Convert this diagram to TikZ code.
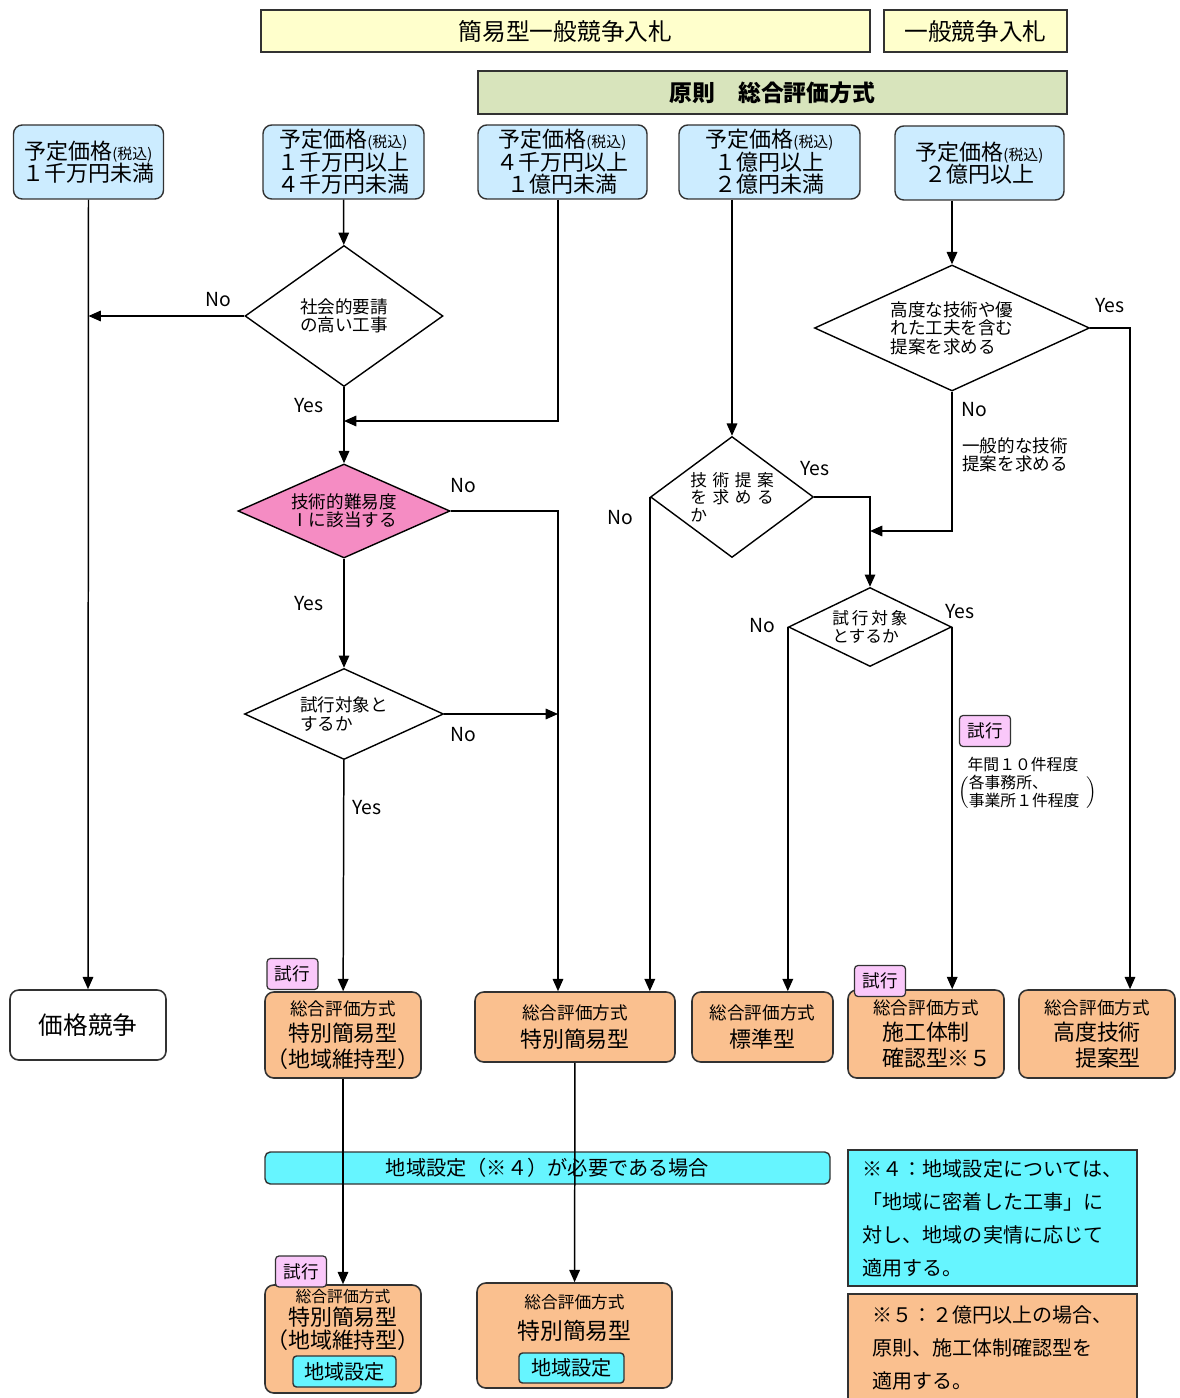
\documentclass[tikz,border=0pt]{standalone}
\usepackage{fontspec}
\setmainfont{Noto Sans CJK JP}
\usetikzlibrary{shapes.geometric,arrows.meta}

\definecolor{headyellow}{RGB}{255,255,204}
\definecolor{headgreen}{RGB}{216,228,188}
\definecolor{priceblue}{RGB}{204,236,255}
\definecolor{levelpink}{RGB}{245,140,195}
\definecolor{resultorange}{RGB}{250,192,143}
\definecolor{areacyan}{RGB}{102,245,255}
\definecolor{trialpink}{RGB}{250,200,250}
\definecolor{edgegray}{RGB}{50,50,50}

\newcommand{\zeikomi}{{\fontsize{8.5}{9}\selectfont(税込)}}

\tikzset{
  sz/.style 2 args={minimum width=#1*0.02cm, minimum height=#2*0.02cm},
  headbox/.style={draw=edgegray, line width=0.9pt, inner sep=0pt, font=\fontsize{13.5}{16}\selectfont},
  pricebox/.style={draw=edgegray, fill=priceblue, rounded corners=5pt, line width=0.8pt, align=center, inner sep=0pt, font=\fontsize{12.5}{12.8}\selectfont},
  choice/.style={diamond, draw=black, line width=0.8pt, inner sep=0pt, align=center, font=\fontsize{10}{10.5}\selectfont},
  resultbox/.style={draw=edgegray, fill=resultorange, rounded corners=5pt, line width=0.9pt, align=center, inner sep=0pt, font=\fontsize{12.5}{15}\selectfont},
  trialtag/.style={draw=edgegray, fill=trialpink, rounded corners=2pt, line width=0.7pt, inner sep=0pt, sz={51}{31}, font=\fontsize{10}{12}\selectfont},
  areabox/.style={draw=edgegray, fill=areacyan, rounded corners=2pt, line width=0.8pt, inner sep=0pt, font=\fontsize{11.5}{12}\selectfont},
  notebox/.style={draw=edgegray, line width=0.9pt, align=left, inner sep=0pt, font=\fontsize{11.4}{18.8}\selectfont},
  flow/.style={line width=0.85pt, -{Triangle[length=7pt,width=6pt]}},
  ans/.style={inner sep=0pt, font=\fontsize{11}{12}\selectfont}
}

\begin{document}
\begin{tikzpicture}[x=0.02cm, y=-0.02cm]
    \useasboundingbox (0,0) rectangle (1179,1398);

    % Header boxes
    \node[headbox, fill=headyellow, sz={609}{42}] (simple) at (565.5,31) {簡易型一般競争入札};
    \node[headbox, fill=headyellow, sz={183}{42}] (general) at (975.5,31) {一般競争入札};
    \node[headbox, fill=headgreen, sz={589}{43}, font=\bfseries\fontsize{13}{15}\selectfont] (rule) at (772.5,92.5) {原則　総合評価方式};

    % Price ranges
    \node[pricebox, sz={150}{74}] (p1) at (88.5,162) {予定価格\zeikomi\\１千万円未満};
    \node[pricebox, sz={161}{74}] (p2) at (343.5,162) {予定価格\zeikomi\\１千万円以上\\４千万円未満};
    \node[pricebox, sz={169}{74}] (p3) at (562.5,162) {予定価格\zeikomi\\４千万円以上\\１億円未満};
    \node[pricebox, sz={181}{74}] (p4) at (769.5,162) {予定価格\zeikomi\\１億円以上\\２億円未満};
    \node[pricebox, sz={169}{74}] (p5) at (979.5,163) {予定価格\zeikomi\\２億円以上};

    % Decisions
    \node[choice, shape aspect=1.4, sz={198}{141}] (q1) at (344,316) {社会的要請\\の高い工事};
    \node[choice, fill=levelpink, shape aspect=2.26, sz={212}{94}] (q2) at (344,511) {技術的難易度\\Ⅰに該当する};
    \node[choice, align=left, shape aspect=2.19, sz={199}{91}] (q3) at (344,714) {試行対象と\\するか};
    \node[choice, align=left, shape aspect=2.18, sz={275}{126}] (q4) at (952,328) {高度な技術や優\\れた工夫を含む\\提案を求める};
    \node[choice, align=left, shape aspect=1.35, sz={163}{121}, font=\fontsize{9.5}{10}\selectfont] (q5) at (732,497) {技\,\,術\,\,提\,\,案\\を\,\,求\,\,め\,\,る\\か};
    \node[choice, align=left, shape aspect=2.06, sz={163}{79}, font=\fontsize{9.5}{10}\selectfont] (q6) at (870,627) {試\,行\,対\,象\\とするか};

    % Results
    \node[draw=edgegray, fill=white, rounded corners=5pt, line width=0.9pt, inner sep=0pt, sz={156}{70}, font=\fontsize{14}{16}\selectfont] (price) at (88,1025) {価格競争};
    \node[resultbox, sz={156}{86}] (r1) at (343,1035) {{\fontsize{10}{10}\selectfont 総合評価方式}\\特別簡易型\\（地域維持型）};
    \node[resultbox, sz={200}{70}, font=\fontsize{12.5}{16}\selectfont] (r2) at (575,1027) {{\fontsize{10}{10}\selectfont 総合評価方式}\\特別簡易型};
    \node[resultbox, sz={141}{70}, font=\fontsize{12.5}{16}\selectfont] (r3) at (762.5,1027) {{\fontsize{10}{10}\selectfont 総合評価方式}\\標準型};
    \node[resultbox, sz={156}{88}] (r4) at (926,1034) {{\fontsize{10}{10}\selectfont 総合評価方式}\\施工体制\\\hphantom{一}確認型※５};
    \node[resultbox, sz={156}{88}] (r5) at (1097,1034) {{\fontsize{10}{10}\selectfont 総合評価方式}\\高度技術\\\hphantom{一}提案型};

    % Area setting
    \node[areabox, rounded corners=3pt, sz={565}{32}] (area) at (547.5,1168) {地域設定（※４）が必要である場合};

    \node[draw=edgegray, fill=resultorange, rounded corners=5pt, line width=0.9pt, sz={156}{108}] (r6) at (343,1339) {};
    \node[align=center, inner sep=0pt, font=\fontsize{12.5}{13}\selectfont] (r6text) at (343,1320) {{\fontsize{9}{9}\selectfont 総合評価方式}\\特別簡易型\\（地域維持型）};
    \node[areabox, sz={103}{31}] (r6area) at (344.5,1371.5) {地域設定};

    \node[draw=edgegray, fill=resultorange, rounded corners=5pt, line width=0.9pt, sz={195}{105}] (r7) at (574.5,1335.5) {};
    \node[align=center, inner sep=0pt, font=\fontsize{13}{13.5}\selectfont] (r7text) at (574.5,1318) {{\fontsize{9.5}{9.5}\selectfont 総合評価方式}\\[4pt]特別簡易型};
    \node[areabox, sz={105}{30}] (r7area) at (571.5,1368) {地域設定};

    % Notes
    \node[notebox, fill=areacyan, sz={289}{136}] (note4) at (992.5,1218) {※４：地域設定については、\\「地域に密着した工事」に\\対し、地域の実情に応じて\\適用する。};
    \node[notebox, fill=resultorange, sz={289}{108}] (note5) at (992.5,1348) {※５：２億円以上の場合、\\原則、施工体制確認型を\\適用する。};

    % Turning points
    \coordinate (bend1) at (558,421);
    \coordinate (yesline) at (1130,328);
    \coordinate (join2) at (870,531);

    % Connectors
    \draw[flow] (p1.south) -- (price.north);
    \draw[flow] (p2) -- (q1);
    \draw[flow] (q1.west) -- (q1.west -| p1.south);
    \draw[flow] (q1) -- (q2);
    \draw[flow] (bend1 |- p3.south) -- (bend1) -- (q2.north |- bend1);
    \draw[flow] (q2) -- (q3);
    \draw[flow] (q2.east) -| (bend1 |- r2.north);
    \draw[flow] (q3.east) -- (q3.east -| bend1);
    \draw[flow] (q3) -- (r1);
    \draw[flow] (q5.north |- p4.south) -- (q5.north);
    \draw[flow] (q5.west) -- (q5.west |- r2.north);
    \draw[flow] (q5.east) -| (q6.north);
    \draw[flow] (q4.north |- p5.south) -- (q4.north);
    \draw[flow] (q4.east) -- (yesline) -- (yesline |- r5.north);
    \draw[flow] (q4.south) |- (join2);
    \draw[flow] (q6.west) -- (q6.west |- r3.north);
    \draw[flow] (q6.east) -- (q6.east |- r4.north);
    \draw[flow] (r1) -- (r6);
    \draw[flow] (r2) -- (r7);

    % Yes / No labels
    \node[ans] (no1) at (218,300) {No};
    \node[ans] (yes1) at (309,406) {Yes};
    \node[ans] (no2) at (463,486) {No};
    \node[ans] (yes2) at (309,604) {Yes};
    \node[ans] (no3) at (463,735) {No};
    \node[ans] (yes3) at (367,808) {Yes};
    \node[ans] (no5) at (620,518) {No};
    \node[ans] (yes5) at (815,469) {Yes};
    \node[ans] (yes4) at (1110,306) {Yes};
    \node[ans] (no4) at (974,410) {No};
    \node[ans, align=left, anchor=west, font=\fontsize{10}{10.5}\selectfont] (general4) at (962,455) {一般的な技術\\提案を求める};
    \node[ans] (no6) at (762,626) {No};
    \node[ans] (yes6) at (960,612) {Yes};

    % Trial tags
    \node[trialtag] (trial1) at (292.5,974) {試行};
    \node[trialtag] (trial2) at (880,981) {試行};
    \node[trialtag] (trial3) at (985,731) {試行};
    \node[trialtag] (trial4) at (301,1271.5) {試行};

    % Trial count
    \node[inner sep=0pt, font=\fontsize{9}{10}\selectfont] (yearly) at (1023,764) {年間１０件程度};
    \node[inner sep=0pt, anchor=west, font=\fontsize{9}{9.3}\selectfont] (office) at (958,793) {$\Bigl(\renewcommand{\arraystretch}{0.85}\begin{tabular}{@{}l@{\hspace{4pt}}}各事務所、\\事業所１件程度\end{tabular}\Bigr)$};

\end{tikzpicture}
\end{document}
